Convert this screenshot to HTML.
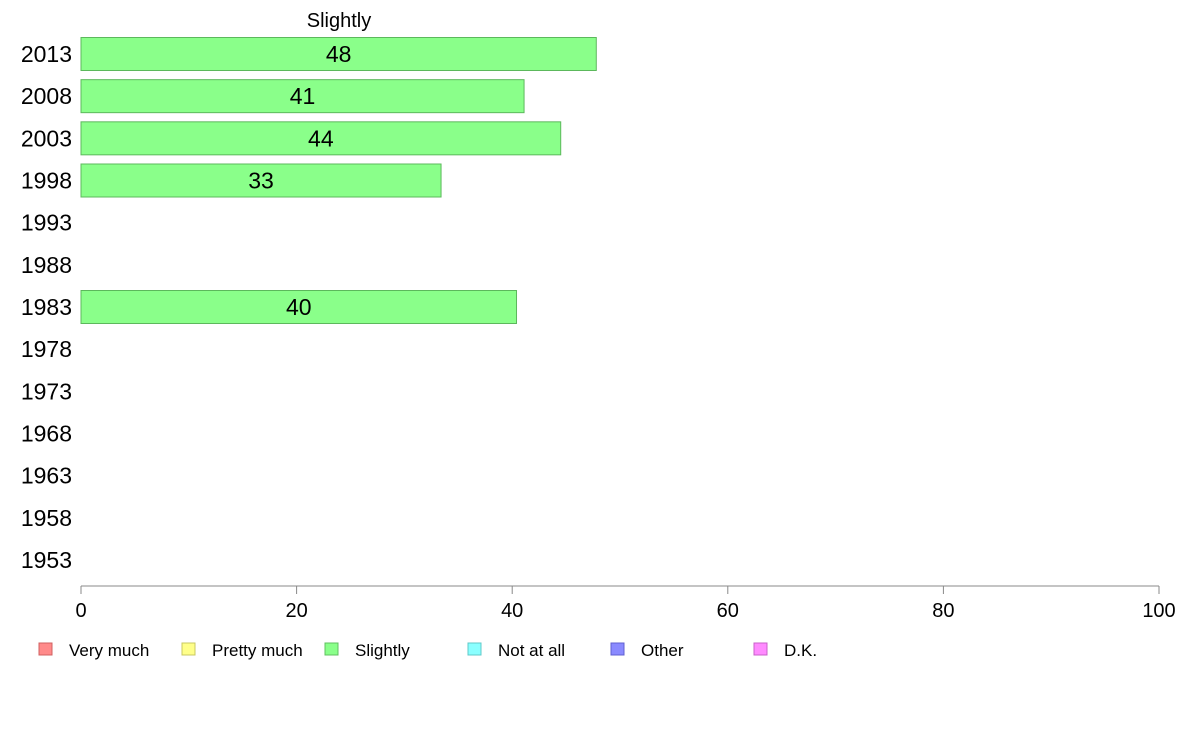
<!DOCTYPE html>
<html><head><meta charset="utf-8"><style>
body{margin:0;background:#fff;font-family:"Liberation Sans",Arial,sans-serif}
</style></head><body>
<svg id="chart" width="1188" height="736" xmlns="http://www.w3.org/2000/svg" font-family="Liberation Sans, Arial, sans-serif"></svg>
<script>
const years=["2013","2008","2003","1998","1993","1988","1983","1978","1973","1968","1963","1958","1953"];
const values=[47.8,41.1,44.5,33.4,null,null,40.4,null,null,null,null,null,null];
const labels=["48","41","44","33","","","40","","","","","",""];
const xTicks=[0,20,40,60,80,100];
const legendNames=["Very much","Pretty much","Slightly","Not at all","Other","D.K."];
const legendColors=["#ff8a8a","#ffff8a","#8aff8a","#8affff","#8a8aff","#ff8aff"];
const legendStroke=["#d06060","#c8c860","#60c060","#60c8c8","#6060d0","#c860c8"];
const NS="http://www.w3.org/2000/svg";
const svg=document.getElementById('chart');
const x=v=>81+v*(1159-81)/100;
const y=i=>54+i*(560-54)/(years.length-1);
function el(t,a,txt){const e=document.createElementNS(NS,t);for(const k in a)e.setAttribute(k,a[k]);if(txt!==undefined)e.textContent=txt;svg.appendChild(e);return e;}
const title=el('text',{x:339,y:27,'font-size':20,'text-anchor':'middle',fill:'#000'},'Slightly');


years.forEach((yr,i)=>{
  const t=el('text',{x:72,y:y(i)+8,'font-size':23,'text-anchor':'end',fill:'#000'},yr);
  
  
  if(values[i]!=null){
    const r=el('rect',{x:x(0),y:y(i)-16.5,width:x(values[i])-x(0),height:33,fill:'#8aff8a',stroke:'#5cb85c','stroke-width':1});
    
    
    const v=el('text',{x:(x(0)+x(values[i]))/2,y:y(i)+8,'font-size':23,'text-anchor':'middle',fill:'#000'},labels[i]);
    
    
  }
});
const ax=el('line',{x1:x(0),x2:x(100),y1:586,y2:586,stroke:'#888','stroke-width':1});


xTicks.forEach(t=>{
  const l=el('line',{x1:x(t),x2:x(t),y1:586,y2:594,stroke:'#888'});
  
  
  const tx=el('text',{x:x(t),y:617,'font-size':20,'text-anchor':'middle',fill:'#000'},String(t));
  
  
});
legendNames.forEach((n,i)=>{
  const lx=39+i*143;
  const b=el('rect',{x:lx,y:643,width:13,height:12,fill:legendColors[i],stroke:legendStroke[i]});
  
  
  const t=el('text',{x:lx+30,y:656,'font-size':17,fill:'#000'},n);
  
  
});
</script>
</body></html>
